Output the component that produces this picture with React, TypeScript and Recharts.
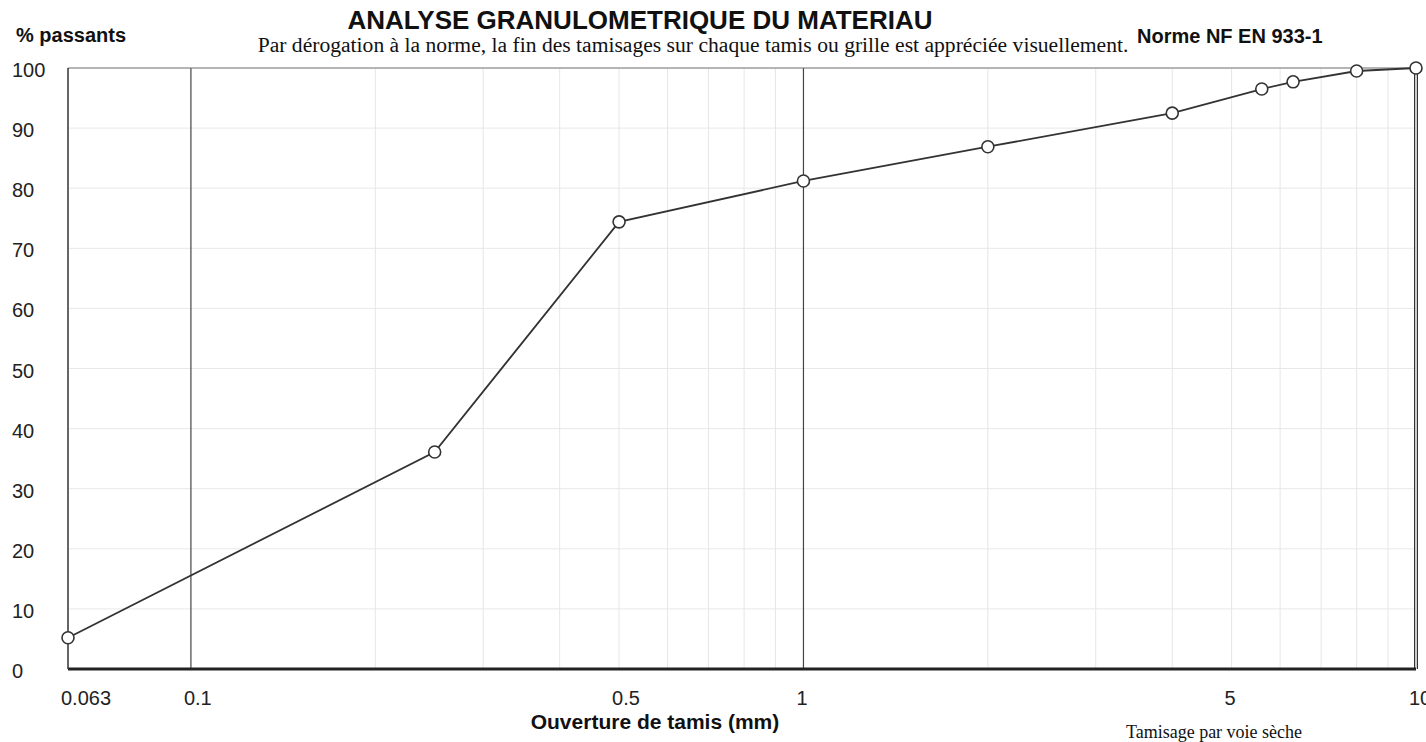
import React from 'react';
import { LineChart, Line, XAxis, YAxis, CartesianGrid, ReferenceLine } from 'recharts';

// tamis (mm) et % passants
const sieves = [0.063, 0.25, 0.5, 1, 2, 4, 5.6, 6.3, 8, 10];
const passing = [5.2, 36.1, 74.4, 81.2, 86.9, 92.5, 96.5, 97.7, 99.5, 100];

const xTicks = [0.063, 0.1, 0.5, 1, 5, 10];
const yTicks = [0, 10, 20, 30, 40, 50, 60, 70, 80, 90, 100];
const minorLines = [0.2, 0.3, 0.4, 0.5, 0.6, 0.7, 0.8, 0.9, 2, 3, 4, 5, 6, 7, 8, 9];
const majorLines = [0.1, 1];

const SANS = '"Liberation Sans", Arial, sans-serif';
const SERIF = '"Liberation Serif", "Times New Roman", serif';

const data = sieves.map((s, i) => ({ size: s, pct: passing[i] }));

const XTick = (props: any) => {
  const { x, payload } = props;
  return (
    <text x={x - 7} y={698} textAnchor="start" dominantBaseline="central" fontSize={20} fontFamily={SANS} fill="#222">
      {payload.value}
    </text>
  );
};

const YTick = (props: any) => {
  const { y, payload } = props;
  return (
    <text x={12} y={y + 2} textAnchor="start" dominantBaseline="central" fontSize={20} fontFamily={SANS} fill="#222">
      {payload.value}
    </text>
  );
};

const label = (style: React.CSSProperties): React.CSSProperties => ({
  position: 'absolute',
  whiteSpace: 'nowrap',
  lineHeight: 1,
  color: '#111',
  ...style,
});

export default function App() {
  return (
    <div style={{ position: 'fixed', top: 0, left: 0, width: 1426, height: 742, background: '#fff', overflow: 'hidden' }}>
      <LineChart width={1426} height={742} data={data} margin={{ top: 68, right: 10, left: 10, bottom: 43 }}>
        <CartesianGrid vertical={false} stroke="#e8e8e8" />
        {minorLines.map((v) => (
          <ReferenceLine key={'m' + v} x={v} stroke="#e6e6e6" />
        ))}
        {majorLines.map((v) => (
          <ReferenceLine key={'M' + v} x={v} stroke="#444" strokeWidth={1.2} />
        ))}
        <ReferenceLine y={100} stroke="#777" strokeWidth={1.2} />
        <ReferenceLine x={10} stroke="#333" strokeWidth={4} />
        <ReferenceLine x={10} stroke="#fff" strokeWidth={1.5} />
        <XAxis
          dataKey="size"
          type="number"
          scale="log"
          domain={[0.063, 10]}
          ticks={xTicks}
          height={30}
          axisLine={{ stroke: '#222', strokeWidth: 3 }}
          tickLine={false}
          tick={<XTick />}
          interval={0}
        />
        <YAxis
          type="number"
          domain={[0, 100]}
          ticks={yTicks}
          width={58}
          axisLine={{ stroke: '#333', strokeWidth: 1.5 }}
          tickLine={false}
          tick={<YTick />}
          interval={0}
        />
        <Line
          type="linear"
          dataKey="pct"
          stroke="#333"
          strokeWidth={1.8}
          dot={{ r: 6, stroke: '#333', strokeWidth: 1.6, fill: '#fff' }}
          isAnimationActive={false}
        />
      </LineChart>
      <div style={label({ left: 640, top: 20, transform: 'translate(-50%, -50%)', fontFamily: SANS, fontWeight: 'bold', fontSize: 26 })}>
        ANALYSE GRANULOMETRIQUE DU MATERIAU
      </div>
      <div style={label({ left: 693, top: 46, transform: 'translate(-50%, -50%)', fontFamily: SERIF, fontSize: 21.6 })}>
        Par dérogation à la norme, la fin des tamisages sur chaque tamis ou grille est appréciée visuellement.
      </div>
      <div style={label({ left: 16, top: 35, transform: 'translateY(-50%)', fontFamily: SANS, fontWeight: 'bold', fontSize: 20 })}>
        % passants
      </div>
      <div style={label({ left: 1137, top: 36, transform: 'translateY(-50%)', fontFamily: SANS, fontWeight: 'bold', fontSize: 20 })}>
        Norme NF EN 933-1
      </div>
      <div style={label({ left: 655, top: 721, transform: 'translate(-50%, -50%)', fontFamily: SANS, fontWeight: 'bold', fontSize: 21 })}>
        Ouverture de tamis (mm)
      </div>
      <div style={label({ left: 1214, top: 732, transform: 'translate(-50%, -50%)', fontFamily: SERIF, fontSize: 18 })}>
        Tamisage par voie sèche
      </div>
    </div>
  );
}
